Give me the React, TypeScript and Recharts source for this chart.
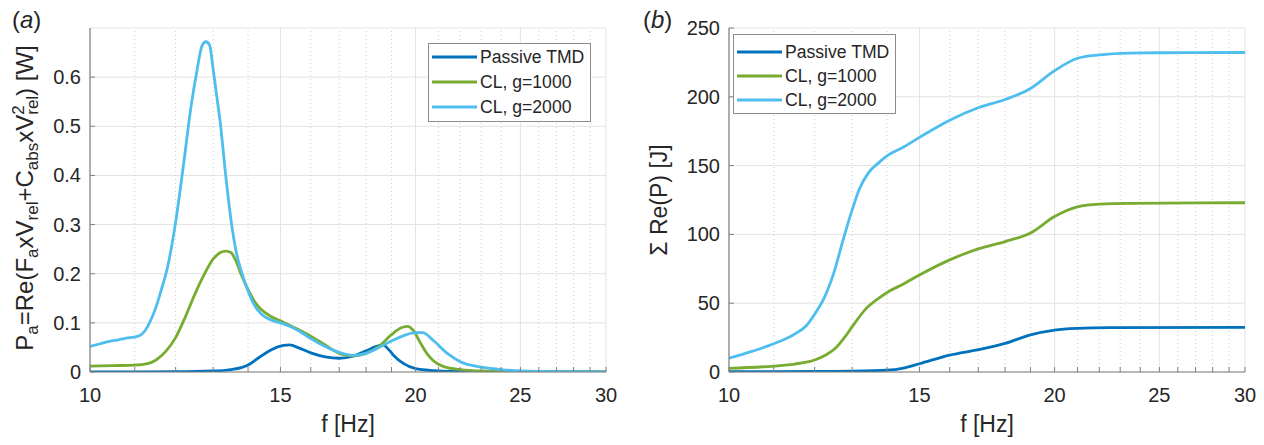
import React from 'react';
import { LineChart, Line, XAxis, YAxis, CartesianGrid, ReferenceLine, Legend } from 'recharts';

const FONT = '"Liberation Sans", Arial, Helvetica, sans-serif';
const TEXT = '#262626';
const AXIS = '#808080';
const GRID = '#e3e3e3';
const MINOR = '#cfcfcf';

const SERIES_NAMES = ['Passive TMD', 'CL, g=1000', 'CL, g=2000'];
const SERIES_COLORS = ['#0072BD', '#77AC30', '#4DBEEE'];

const X_MAJOR = [10, 15, 20, 25, 30];
const X_MINOR = [11, 12, 13, 14, 16, 17, 18, 19, 21, 22, 23, 24, 26, 27, 28, 29];
const X_ALL = [10, 11, 12, 13, 14, 15, 16, 17, 18, 19, 20, 21, 22, 23, 24, 25, 26, 27, 28, 29, 30];
const POWER_TICKS = [0, 0.1, 0.2, 0.3, 0.4, 0.5, 0.6];
const ENERGY_TICKS = [0, 50, 100, 150, 200, 250];

// (a) instantaneous power [W]
const powerPassiveF = [10, 12, 13, 13.5, 13.8, 14, 14.3, 14.7, 15.1, 15.3, 15.6, 16, 16.5, 17, 17.5, 18, 18.4, 18.65, 18.9, 19.1, 19.5, 20, 20.8, 22, 30];
const powerPassiveV = [0, 0.0005, 0.002, 0.005, 0.009, 0.014, 0.028, 0.045, 0.054, 0.055, 0.049, 0.039, 0.031, 0.028, 0.032, 0.043, 0.052, 0.055, 0.045, 0.033, 0.017, 0.007, 0.003, 0.001, 0];

const powerG1000F = [10, 10.5, 11, 11.3, 11.5, 11.75, 12, 12.25, 12.5, 12.75, 13, 13.2, 13.35, 13.5, 13.65, 13.8, 14, 14.2, 14.4, 14.7, 15, 15.5, 16, 16.5, 17, 17.5, 18, 18.5, 19, 19.4, 19.65, 19.9, 20.2, 20.5, 20.8, 21.3, 22, 23, 25, 30];
const powerG1000V = [0.012, 0.013, 0.014, 0.017, 0.024, 0.042, 0.07, 0.112, 0.158, 0.198, 0.23, 0.243, 0.246, 0.243, 0.225, 0.198, 0.168, 0.143, 0.127, 0.113, 0.104, 0.089, 0.073, 0.055, 0.038, 0.033, 0.038, 0.052, 0.076, 0.09, 0.093, 0.085, 0.06, 0.037, 0.022, 0.01, 0.005, 0.002, 0.0005, 0];

const powerG2000F = [10, 10.2, 10.4, 10.6, 10.8, 11, 11.15, 11.25, 11.35, 11.5, 11.65, 11.8, 12, 12.2, 12.4, 12.55, 12.7, 12.8, 12.9, 13, 13.1, 13.2, 13.35, 13.5, 13.65, 13.8, 14, 14.2, 14.4, 14.7, 15, 15.3, 15.7, 16, 16.5, 17, 17.5, 18, 18.5, 19, 19.5, 20, 20.3, 20.8, 21.4, 22, 23, 24, 25, 27, 30];
const powerG2000V = [0.052, 0.057, 0.062, 0.065, 0.069, 0.071, 0.076, 0.085, 0.1, 0.13, 0.17, 0.215, 0.305, 0.42, 0.54, 0.61, 0.665, 0.672, 0.665, 0.615, 0.56, 0.505, 0.4, 0.31, 0.245, 0.205, 0.165, 0.135, 0.118, 0.106, 0.1, 0.093, 0.08, 0.068, 0.052, 0.04, 0.034, 0.038, 0.05, 0.063, 0.074, 0.08, 0.08, 0.063, 0.038, 0.021, 0.01, 0.005, 0.002, 0.0005, 0];

// (b) cumulative energy [J]
const energyPassiveF = [10, 12, 13, 14, 14.5, 15, 16, 17, 18, 19, 20, 21, 22.5, 30];
const energyPassiveV = [0.3, 0.4, 0.6, 1.3, 2.9, 6, 12.3, 16.2, 20.8, 27, 30.5, 31.7, 32.2, 32.5];

const energyG1000F = [10, 11, 11.5, 12, 12.3, 12.55, 12.8, 13, 13.35, 13.75, 14.05, 14.5, 15, 16, 17, 18, 19, 20, 21, 22, 23.5, 30];
const energyG1000V = [2.7, 4.3, 5.8, 8.7, 12.5, 17.5, 25.5, 33, 45, 53.5, 58.5, 64, 70.5, 81.5, 89.5, 94.8, 101, 113, 120, 122, 122.6, 123];

const energyG2000F = [10, 10.5, 11, 11.5, 11.8, 12, 12.25, 12.5, 12.75, 13, 13.2, 13.45, 13.75, 14, 14.5, 15, 16, 17, 18, 19, 20, 21, 22, 23.5, 25, 30];
const energyG2000V = [10, 15, 20.5, 27.5, 34, 42, 54, 72, 96, 118, 133, 144.5, 152, 157, 163.5, 170.5, 183, 192, 198, 206, 219, 228, 230.5, 231.8, 232, 232.2];

const zip = (fs: number[], vs: number[]) => fs.map((f, i) => ({ f, v: vs[i] }));

const powerSeries = [zip(powerPassiveF, powerPassiveV), zip(powerG1000F, powerG1000V), zip(powerG2000F, powerG2000V)];
const energySeries = [zip(energyPassiveF, energyPassiveV), zip(energyG1000F, energyG1000V), zip(energyG2000F, energyG2000V)];

const XTick = (props: any) => {
  const { x, y, payload } = props;
  const major = X_MAJOR.includes(payload.value);
  return (
    <g>
      <line x1={x} x2={x} y1={y} y2={y - 5} stroke={AXIS} strokeWidth={1} />
      {major && (
        <text x={x} y={y + 30} textAnchor="middle" fontSize={20} fill={TEXT} fontFamily={FONT}>
          {payload.value}
        </text>
      )}
    </g>
  );
};

const YTick = (props: any) => {
  const { x, y, payload } = props;
  return (
    <g>
      <line x1={x} x2={x + 5} y1={y} y2={y} stroke={AXIS} strokeWidth={1} />
      <text x={x - 9} y={y + 7} textAnchor="end" fontSize={20} fill={TEXT} fontFamily={FONT}>
        {payload.value}
      </text>
    </g>
  );
};

const XLabel = (props: any) => {
  const vb = props.viewBox || { x: 0, y: 0, width: 0, height: 0 };
  return (
    <text x={vb.x + vb.width / 2} y={vb.y + 60} textAnchor="middle" fontSize={23} fill={TEXT} fontFamily={FONT}>
      f [Hz]
    </text>
  );
};

const PowerYLabel = (props: any) => {
  const vb = props.viewBox || { x: 0, y: 28, width: 90, height: 344 };
  const cx = vb.x + 33;
  const cy = vb.y + vb.height / 2 - 2;
  const s = 17;
  return (
    <g>
      <text x={12} y={28} fontSize={24} fill={TEXT} fontFamily={FONT}>
        (<tspan fontStyle="italic">a</tspan>)
      </text>
      <text transform={`translate(${cx},${cy}) rotate(-90)`} textAnchor="middle" fontSize={24} fill={TEXT} fontFamily={FONT}>
        <tspan>P</tspan>
        <tspan fontSize={s} dy={5}>a</tspan>
        <tspan dy={-5}>=Re(F</tspan>
        <tspan fontSize={s} dy={5}>a</tspan>
        <tspan dy={-5}>xV</tspan>
        <tspan fontSize={s} dy={5}>rel</tspan>
        <tspan dy={-5}>+C</tspan>
        <tspan fontSize={s} dy={5}>abs</tspan>
        <tspan dy={-5}>xV</tspan>
        <tspan fontSize={s} dy={-9}>2</tspan>
        <tspan fontSize={s} dx={-9.5} dy={14}>rel</tspan>
        <tspan dy={-5}>) [W]</tspan>
      </text>
    </g>
  );
};

const EnergyYLabel = (props: any) => {
  const vb = props.viewBox || { x: 0, y: 28, width: 97, height: 344 };
  const cx = vb.x + 35;
  const cy = vb.y + vb.height / 2;
  return (
    <g>
      <text x={vb.x + 11} y={28} fontSize={24} fill={TEXT} fontFamily={FONT}>
        (<tspan fontStyle="italic">b</tspan>)
      </text>
      <text transform={`translate(${cx},${cy}) rotate(-90)`} textAnchor="middle" fontSize={23} fill={TEXT} fontFamily={FONT}>
        Σ Re(P) [J]
      </text>
    </g>
  );
};

const makeLegend = (topPad: number, rowH: number, height: number) => (props: any) => {
  const items = ([...(props.payload || [])] as any[]).sort(
    (a, b) => SERIES_NAMES.indexOf(a.value) - SERIES_NAMES.indexOf(b.value)
  );
  return (
    <div
      style={{
        boxSizing: 'border-box',
        width: 163,
        height,
        border: '1px solid #8c8c8c',
        background: '#ffffff',
        position: 'relative',
        fontFamily: FONT,
        fontSize: 17.6,
        color: TEXT,
      }}
    >
      {items.map((p, i) => (
        <div key={i} style={{ position: 'absolute', left: 0, top: topPad + i * rowH, height: 24, display: 'flex', alignItems: 'center', whiteSpace: 'nowrap' }}>
          <svg width={51} height={24} style={{ display: 'block' }}>
            <line x1={3} x2={48} y1={12} y2={12} stroke={p.color} strokeWidth={3} />
          </svg>
          <span style={{ lineHeight: '24px' }}>{p.value}</span>
        </div>
      ))}
    </div>
  );
};

const LeftLegend = makeLegend(1, 25, 79);
const RightLegend = makeLegend(5, 24, 80);

function Panel(props: {
  series: { f: number; v: number }[][];
  yDomain: [number, number];
  yTicks: number[];
  yWidth: number;
  right: number;
  yLabel: React.ReactElement;
  legend: React.ReactElement;
  legendPos: { left: number; top: number; height: number };
}) {
  const { series, yDomain, yTicks, yWidth, right, yLabel, legend, legendPos } = props;
  return (
    <LineChart width={632} height={445} margin={{ top: 28, right, bottom: 0, left: 0 }}>
      <CartesianGrid vertical={false} stroke={GRID} strokeWidth={1} />
      {X_MINOR.map((v) => (
        <ReferenceLine key={'m' + v} x={v} stroke={MINOR} strokeDasharray="1 3" strokeWidth={1} />
      ))}
      {X_MAJOR.map((v) => (
        <ReferenceLine key={'M' + v} x={v} stroke={GRID} strokeWidth={1} />
      ))}
      <XAxis
        type="number"
        dataKey="f"
        scale="log"
        domain={[10, 30]}
        ticks={X_ALL}
        allowDataOverflow
        height={73}
        tickSize={0}
        tickMargin={0}
        tickLine={false}
        tick={<XTick />}
        interval={0}
        axisLine={{ stroke: AXIS, strokeWidth: 1.2 }}
        label={<XLabel />}
      />
      <YAxis
        type="number"
        domain={yDomain}
        ticks={yTicks}
        allowDataOverflow
        width={yWidth}
        tickSize={0}
        tickMargin={0}
        tickLine={false}
        tick={<YTick />}
        interval={0}
        axisLine={{ stroke: AXIS, strokeWidth: 1.2 }}
        label={yLabel}
      />
      <Legend
        layout="vertical"
        align="center"
        verticalAlign="middle"
        wrapperStyle={{ left: legendPos.left, top: legendPos.top, width: 163, height: legendPos.height }}
        content={legend}
      />
      {series.map((d, i) => (
        <Line
          key={SERIES_NAMES[i]}
          data={d}
          dataKey="v"
          name={SERIES_NAMES[i]}
          type="monotone"
          stroke={SERIES_COLORS[i]}
          strokeWidth={2.8}
          dot={false}
          activeDot={false}
          isAnimationActive={false}
        />
      ))}
    </LineChart>
  );
}

export default function App() {
  return (
    <div style={{ position: 'absolute', left: 0, top: 0, width: 1264, height: 445, background: '#ffffff' }}>
      <div style={{ position: 'absolute', left: 0, top: 0 }}>
        <Panel
          series={powerSeries}
          yDomain={[0, 0.7]}
          yTicks={POWER_TICKS}
          yWidth={90}
          right={26}
          yLabel={<PowerYLabel />}
          legend={<LeftLegend />}
          legendPos={{ left: 428, top: 43, height: 79 }}
        />
      </div>
      <div style={{ position: 'absolute', left: 632, top: 0 }}>
        <Panel
          series={energySeries}
          yDomain={[0, 250]}
          yTicks={ENERGY_TICKS}
          yWidth={97}
          right={19}
          yLabel={<EnergyYLabel />}
          legend={<RightLegend />}
          legendPos={{ left: 101, top: 34, height: 80 }}
        />
      </div>
    </div>
  );
}
